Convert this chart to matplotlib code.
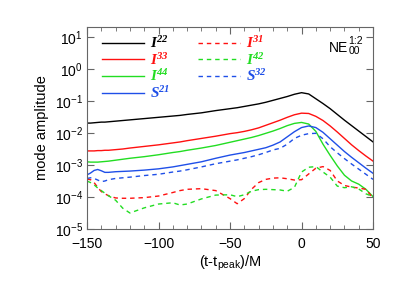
#Amplitud de los modos en funcion del tiempo (escala log)
import numpy as np
import matplotlib.pyplot as plt
from matplotlib.ticker import MultipleLocator, LogLocator

plt.rcParams['font.family'] = ['Liberation Sans', 'DejaVu Sans']
plt.rcParams['mathtext.fontset'] = 'custom'
plt.rcParams['mathtext.rm'] = 'Liberation Sans'
plt.rcParams['mathtext.it'] = 'Liberation Sans:italic'
plt.rcParams['mathtext.bf'] = 'Liberation Serif:bold:italic'

#tiempo (t - t_peak)/M
t = [-150, -147.5, -145, -142.5, -140, -137.5, -135, -130, -125, -120, -110, -100,
     -90, -85, -80, -70, -60, -50, -45, -40, -35, -30, -25, -20, -15, -10, -5,
     0, 5, 10, 15, 20, 25, 30, 35, 40, 45, 50]

#log10 de la amplitud de cada modo
log_I22 = [-1.69, -1.69, -1.68, -1.67, -1.66, -1.66, -1.65, -1.63, -1.61, -1.59, -1.55, -1.51,
           -1.47, -1.45, -1.42, -1.37, -1.30, -1.24, -1.21, -1.17, -1.13, -1.09, -1.04, -0.98, -0.92, -0.86, -0.79,
           -0.74, -0.78, -0.93, -1.08, -1.24, -1.42, -1.60, -1.77, -1.94, -2.11, -2.28]
log_I33 = [-2.56, -2.56, -2.56, -2.55, -2.55, -2.54, -2.54, -2.52, -2.50, -2.47, -2.42, -2.37,
           -2.31, -2.28, -2.24, -2.17, -2.10, -2.02, -1.99, -1.95, -1.90, -1.84, -1.76, -1.68, -1.60, -1.51, -1.43,
           -1.38, -1.39, -1.48, -1.61, -1.78, -1.97, -2.17, -2.37, -2.55, -2.72, -2.88]
log_I44 = [-2.90, -2.91, -2.91, -2.91, -2.90, -2.89, -2.88, -2.85, -2.82, -2.79, -2.74, -2.68,
           -2.61, -2.58, -2.54, -2.47, -2.39, -2.29, -2.24, -2.19, -2.14, -2.08, -2.01, -1.94, -1.86, -1.77, -1.70,
           -1.67, -1.72, -1.95, -2.35, -2.70, -3.03, -3.32, -3.50, -3.60, -3.76, -3.99]
log_S21 = [-3.31, -3.25, -3.17, -3.14, -3.18, -3.23, -3.23, -3.21, -3.20, -3.19, -3.16, -3.12,
           -3.06, -3.02, -2.98, -2.90, -2.79, -2.69, -2.65, -2.61, -2.56, -2.51, -2.46, -2.38, -2.28, -2.12, -1.96,
           -1.83, -1.78, -1.83, -1.98, -2.18, -2.38, -2.58, -2.76, -2.93, -3.10, -3.26]
log_I31 = [-3.44, -3.46, -3.55, -3.70, -3.83, -3.90, -3.96, -4.03, -4.04, -4.04, -4.02, -3.97,
           -3.86, -3.80, -3.76, -3.74, -3.80, -4.05, -4.21, -4.05, -3.76, -3.55, -3.45, -3.41, -3.40, -3.43, -3.47,
           -3.46, -3.28, -3.10, -3.05, -3.17, -3.50, -3.64, -3.69, -3.72, -3.76, -4.04]
log_I42 = [-3.50, -3.55, -3.62, -3.72, -3.80, -3.88, -3.96, -4.10, -4.35, -4.50, -4.34, -4.22,
           -4.18, -4.25, -4.22, -4.06, -3.94, -3.93, -3.99, -3.93, -3.82, -3.77, -3.76, -3.77, -3.78, -3.82, -3.70,
           -3.22, -3.07, -3.05, -3.22, -3.38, -3.66, -3.71, -3.68, -3.75, -3.90, -3.99]
log_S32 = [-3.42, -3.40, -3.42, -3.47, -3.52, -3.50, -3.46, -3.42, -3.40, -3.38, -3.33, -3.29,
           -3.22, -3.19, -3.15, -3.06, -2.96, -2.88, -2.84, -2.79, -2.74, -2.68, -2.61, -2.53, -2.48, -2.35, -2.17,
           -2.07, -2.02, -2.01, -2.18, -2.43, -2.62, -2.80, -2.97, -3.13, -3.29, -3.45]

negro = 'black'
rojo = '#ff1010'
verde = '#22dd22'
azul = '#1f4fe8'
trazo = (3.2, 2.8)

fig = plt.figure(figsize=(3.99, 2.85), dpi=100)
ax = fig.add_axes([0.218, 0.1965, 0.717, 0.7085])

#modos principales (linea continua)
ax.plot(t, 10**np.array(log_I22), color=negro, lw=1.0, label=r'$\mathbf{I^{22}}$')
ax.plot(t, 10**np.array(log_I33), color=rojo, lw=1.0, label=r'$\mathbf{I^{33}}$')
ax.plot(t, 10**np.array(log_I44), color=verde, lw=1.0, label=r'$\mathbf{I^{44}}$')
ax.plot(t, 10**np.array(log_S21), color=azul, lw=1.0, label=r'$\mathbf{S^{21}}$')
#modos mezclados (linea de trazos)
ax.plot(t, 10**np.array(log_I31), color=rojo, lw=1.0, dashes=trazo, label=r'$\mathbf{I^{31}}$')
ax.plot(t, 10**np.array(log_I42), color=verde, lw=1.0, dashes=trazo, label=r'$\mathbf{I^{42}}$')
ax.plot(t, 10**np.array(log_S32), color=azul, lw=1.0, dashes=trazo, label=r'$\mathbf{S^{32}}$')

ax.set_yscale('log')
ax.set_xlim(-150, 50)
ax.set_ylim(1e-5, 10**1.31)
ax.xaxis.set_major_locator(MultipleLocator(50))
ax.xaxis.set_minor_locator(MultipleLocator(10))
ax.yaxis.set_major_locator(LogLocator(base=10, numticks=10))
ax.yaxis.set_minor_locator(LogLocator(base=10, subs=[], numticks=10))

gris = '#666666'
for s in ax.spines.values():
    s.set_color(gris)
    s.set_linewidth(0.8)
ax.tick_params(which='both', direction='in', top=True, right=True, color=gris, labelsize=10)
ax.tick_params(which='major', length=5, width=0.8)
ax.tick_params(which='minor', length=3, width=0.6)
ax.tick_params(axis='x', pad=6)
ax.tick_params(axis='y', pad=3)

ax.set_xlabel(r'(t-t$_{\mathrm{peak}}$)/M', fontsize=10.5, labelpad=2)
ax.set_ylabel('mode amplitude', fontsize=10.5, labelpad=4)

#etiqueta NE con indices armados a mano
ax.text(0.9126, 0.876, 'NE', transform=ax.transAxes, ha='right', va='baseline', fontsize=10)
ax.text(0.9145, 0.918, '1:2', transform=ax.transAxes, ha='left', va='baseline', fontsize=7.5)
ax.text(0.9145, 0.866, '00', transform=ax.transAxes, ha='left', va='baseline', fontsize=7.5)

leg = ax.legend(ncol=2, loc='upper left', bbox_to_anchor=(0.051, 0.96), frameon=False,
                fontsize=11, handlelength=2.75, handletextpad=0.4, columnspacing=1.85,
                labelspacing=0.05, borderpad=0, borderaxespad=0, labelcolor='linecolor')

plt.savefig('out.png', dpi=100)
